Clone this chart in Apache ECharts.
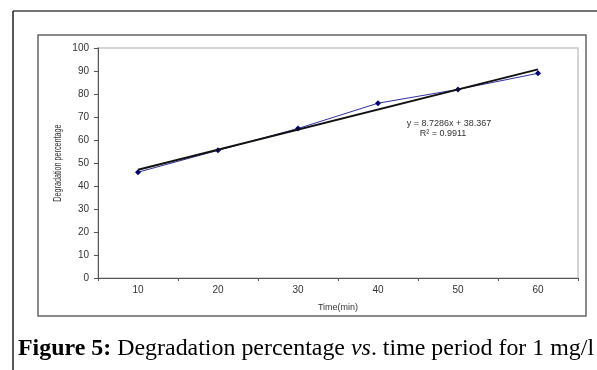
<!DOCTYPE html>
<html>
<head>
<meta charset="utf-8">
<script src="https://cdn.jsdelivr.net/npm/echarts@6/dist/echarts.min.js"></script>
<style>
  html, body { margin: 0; padding: 0; background: #fff; }
  #chart { width: 597px; height: 370px; }
</style>
</head>
<body>
<div id="chart"></div>
<script>
// values
var timeLabels = ['10', '20', '30', '40', '50', '60'];
var degradation = [46, 55.5, 65, 76, 82, 89];
// linear trend, ends (y = 8.7286x + 38.367)
var trendLine = [47.1, null, null, null, null, 90.7];
var yTicks = { min: 0, max: 100, interval: 10 };

var chart = echarts.init(document.getElementById('chart'), null, { renderer: 'canvas' });

var options = {
  animation: false,
  backgroundColor: '#fff',
  grid: {
    left: 98,
    right: 19,
    top: 48,
    bottom: 92,
    show: true,
    borderColor: '#c8c8c8',
    borderWidth: 1.5
  },
  xAxis: {
    type: 'category',
    data: timeLabels,
    boundaryGap: true,
    name: 'Time(min)',
    nameLocation: 'middle',
    nameGap: 25,
    nameTextStyle: { fontFamily: 'Arial, Liberation Sans', fontSize: 9, color: '#333' },
    axisLine: { lineStyle: { color: '#555', width: 1 } },
    axisTick: { show: true, length: 3, lineStyle: { color: '#555' } },
    axisLabel: { margin: 7, fontFamily: 'Arial, Liberation Sans', fontSize: 10, color: '#333' },
    splitLine: { show: false }
  },
  yAxis: {
    type: 'value',
    min: yTicks.min,
    max: yTicks.max,
    interval: yTicks.interval,
    axisLine: { show: true, lineStyle: { color: '#555', width: 1 } },
    axisTick: { show: true, length: 4, lineStyle: { color: '#555' } },
    axisLabel: { margin: 9, fontFamily: 'Arial, Liberation Sans', fontSize: 10, color: '#333' },
    splitLine: { show: false }
  },
  series: [{
    type: 'line',
    data: degradation,
    symbol: 'diamond',
    symbolSize: 6,
    lineStyle: { color: '#3030a0', width: 1 },
    itemStyle: { color: '#00007a' },
    z: 3
  }, {
    type: 'line',
    data: trendLine,
    connectNulls: true,
    showSymbol: false,
    lineStyle: { color: '#111', width: 2 },
    z: 4
  }],
  graphic: [
    // page frame
    { type: 'line', shape: { x1: 13, y1: 11, x2: 597, y2: 11 }, style: { stroke: '#444', lineWidth: 1.5 } },
    { type: 'line', shape: { x1: 13, y1: 11, x2: 13, y2: 370 }, style: { stroke: '#222', lineWidth: 1.5 } },
    // chart box
    { type: 'rect', shape: { x: 38, y: 35, width: 548, height: 281 }, style: { fill: null, stroke: '#666', lineWidth: 1.5 }, z: -1 },
    {
      type: 'text', x: 58, y: 163, rotation: Math.PI / 2, scaleX: 0.72,
      style: { text: 'Degradation percentage', fontFamily: 'Arial, Liberation Sans', fontSize: 10, fill: '#333', align: 'center', verticalAlign: 'middle' }
    },
    {
      type: 'text', x: 449, y: 124,
      style: { text: 'y = 8.7286x + 38.367', fontFamily: 'Arial, Liberation Sans', fontSize: 9, fill: '#333', align: 'center', verticalAlign: 'middle' }
    },
    {
      type: 'text', x: 443, y: 134,
      style: { text: 'R\u00b2 = 0.9911', fontFamily: 'Arial, Liberation Sans', fontSize: 9, fill: '#333', align: 'center', verticalAlign: 'middle' }
    },
    {
      type: 'text', x: 18, y: 349, scaleX: 1.04,
      style: {
        text: '{b|Figure 5:} Degradation percentage {i|vs}. time period for 1 mg/l',
        fontFamily: 'Liberation Serif, Times New Roman', fontSize: 23, fill: '#000', verticalAlign: 'middle',
        rich: {
          b: { fontFamily: 'Liberation Serif, Times New Roman', fontSize: 23, fontWeight: 'bold', fill: '#000' },
          i: { fontFamily: 'Liberation Serif, Times New Roman', fontSize: 23, fontStyle: 'italic', fill: '#000' }
        }
      }
    }
  ]
};
chart.setOption(options);
window.addEventListener('resize', function () { chart.resize(); });
</script>
</body>
</html>
